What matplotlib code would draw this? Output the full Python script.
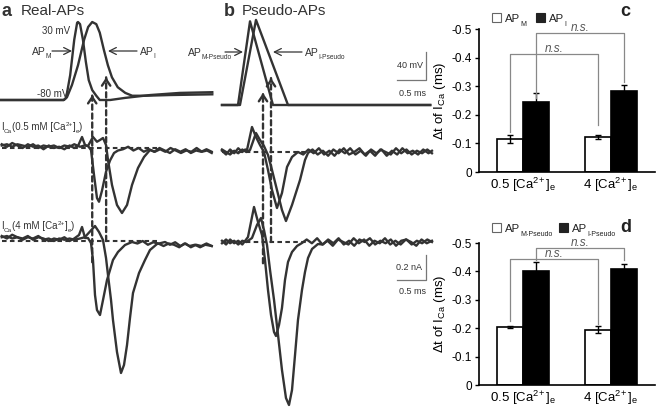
import numpy as np
import matplotlib
matplotlib.use('Agg')
import matplotlib.pyplot as plt
from matplotlib.patches import ConnectionPatch, Rectangle

plt.rcParams['font.family'] = ['Liberation Sans', 'DejaVu Sans']
plt.rcParams['mathtext.default'] = 'regular'
plt.rcParams['axes.unicode_minus'] = False

# ---- panel a: real APs (ms, mV) ----
ap_m_t = [0, 1.10, 1.14, 1.21, 1.28, 1.33, 1.345, 1.38, 1.43, 1.48, 1.53, 1.59, 1.66, 1.72, 1.90, 2.16, 2.59, 3.10, 3.66]
ap_m_v = [-80, -80, -77, -45, 5, 29, 30, 27, 5, -26, -52, -66, -74, -80, -80, -77, -73, -70, -69]
ap_i_t = [0, 1.10, 1.155, 1.24, 1.345, 1.45, 1.52, 1.59, 1.66, 1.72, 1.79, 1.86, 1.93, 2.03, 2.16, 2.28, 2.50, 2.93, 3.66]
ap_i_v = [-80, -80, -76, -59, -31, 5, 23, 30, 27, 15, -9, -31, -48, -62, -70, -74, -74, -73, -72]

# ---- panel b: pseudo APs (ms, mV) ----
pap_m_t = [0, 0.276, 0.483, 0.879, 3.59]
pap_m_v = [-80, -80, 38, -80, -80]
pap_i_t = [0, 0.31, 0.586, 1.138, 3.59]
pap_i_v = [-80, -80, 40, -80, -80]

# ---- I_Ca traces (ms, nA) ----
a_m05_t = [0.03, 0.12, 0.21, 0.30, 0.39, 0.48, 0.57, 0.66, 0.75, 0.84, 0.93, 1.02, 1.11, 1.20, 1.28,
           1.345, 1.414, 1.466, 1.517, 1.569, 1.621, 1.672, 1.707, 1.759, 1.828, 1.897, 1.966, 2.034,
           2.12, 2.21, 2.30, 2.39, 2.48, 2.57, 2.66, 2.75, 2.84, 2.93, 3.02, 3.11, 3.20, 3.29, 3.38, 3.47, 3.56, 3.65]
a_m05_i = [0.03, 0.01, 0.04, 0.02, 0.00, 0.03, 0.01, 0.02, -0.01, 0.02, 0.00, 0.01, -0.01, 0.02, 0.00,
           0.016, 0.088, 0.024, 0.016, -0.016, -0.216, -0.40, -0.43, -0.34, -0.19, -0.10, -0.04, -0.02,
           -0.01, 0.01, -0.02, 0.00, -0.03, -0.01, -0.03, 0.00, -0.02, -0.04, -0.01, -0.03, -0.01, -0.04, -0.02, -0.03, -0.01, -0.03]
a_i05_t = [0.03, 0.12, 0.21, 0.30, 0.39, 0.48, 0.57, 0.66, 0.75, 0.84, 0.93, 1.02, 1.11, 1.20, 1.28, 1.38, 1.46,
           1.517, 1.603, 1.672, 1.724, 1.776, 1.828, 1.862, 1.931, 2.017, 2.103, 2.190, 2.276, 2.379, 2.483, 2.586,
           2.67, 2.76, 2.85, 2.94, 3.03, 3.12, 3.21, 3.30, 3.39, 3.48, 3.57, 3.65]
a_i05_i = [0.02, 0.03, 0.01, 0.03, 0.02, 0.01, 0.03, 0.00, 0.02, 0.01, 0.02, 0.00, 0.02, 0.01, 0.03, 0.01, 0.02,
           0.016, 0.088, 0.05, 0.064, 0.08, 0.024, -0.096, -0.296, -0.456, -0.52, -0.456, -0.296, -0.16, -0.072, -0.016,
           -0.03, -0.01, -0.03, 0.00, -0.02, -0.04, -0.02, -0.03, 0.00, -0.03, -0.02, -0.04]
a_m4_t = [0.03, 0.12, 0.21, 0.30, 0.39, 0.48, 0.57, 0.66, 0.75, 0.84, 0.93, 1.02, 1.11, 1.20, 1.28,
          1.362, 1.414, 1.466, 1.517, 1.569, 1.603, 1.638, 1.672, 1.724, 1.776, 1.845, 1.897, 1.948, 2.034, 2.155, 2.276,
          2.37, 2.46, 2.55, 2.64, 2.73, 2.82, 2.91, 3.00, 3.09, 3.18, 3.27, 3.36, 3.45, 3.54, 3.65]
a_m4_i = [0.04, 0.02, 0.05, 0.03, 0.02, 0.04, 0.01, 0.03, 0.02, 0.00, 0.02, 0.01, 0.03, 0.00, 0.02,
          0.048, 0.112, 0.024, 0.024, -0.016, -0.152, -0.432, -0.552, -0.592, -0.472, -0.312, -0.232, -0.152, -0.088, -0.032, -0.008,
          -0.02, 0.00, -0.03, -0.01, -0.02, -0.04, -0.02, -0.03, -0.05, -0.02, -0.04, -0.03, -0.05, -0.03, -0.04]
a_i4_t = [0.03, 0.12, 0.21, 0.30, 0.39, 0.48, 0.57, 0.66, 0.75, 0.84, 0.93, 1.02, 1.11, 1.20, 1.28, 1.38, 1.46, 1.52,
          1.638, 1.707, 1.776, 1.828, 1.862, 1.914, 1.948, 2.017, 2.086, 2.138, 2.190, 2.241, 2.293, 2.397, 2.50, 2.586, 2.707, 2.845,
          2.93, 3.02, 3.11, 3.20, 3.29, 3.38, 3.47, 3.56, 3.65]
a_i4_i = [0.03, 0.04, 0.02, 0.03, 0.01, 0.03, 0.02, 0.04, 0.01, 0.02, 0.00, 0.02, 0.01, 0.02, 0.01, 0.02, 0.03, 0.06,
          0.12, 0.072, 0.008, -0.136, -0.272, -0.472, -0.632, -0.888, -1.056, -0.992, -0.832, -0.616, -0.416, -0.256, -0.152, -0.072, -0.024, -0.008,
          -0.03, -0.01, -0.04, -0.02, -0.05, -0.03, -0.04, -0.02, -0.04]

b_m05_t = [0.0, 0.07, 0.14, 0.21, 0.28, 0.35, 0.40,
           0.431, 0.517, 0.586, 0.655, 0.724, 0.793, 0.862, 0.948, 1.034, 1.121, 1.207, 1.31,
           1.40, 1.49, 1.58, 1.67, 1.76, 1.85, 1.94, 2.03, 2.12, 2.21, 2.30, 2.39, 2.48, 2.57, 2.66, 2.75, 2.84, 2.93, 3.02, 3.11, 3.20, 3.29, 3.38, 3.47, 3.56, 3.62]
b_m05_i = [0.01, -0.02, 0.02, -0.01, 0.03, 0.00, 0.02,
           0.016, 0.20, 0.12, 0.056, 0.0, -0.144, -0.304, -0.448, -0.328, -0.12, -0.04, 0.0,
           -0.02, 0.02, -0.01, 0.03, -0.02, 0.01, -0.03, 0.02, -0.01, 0.03, -0.02, 0.01, -0.03, 0.02, -0.01, 0.02, -0.03, 0.01, -0.02, 0.03, -0.01, 0.01, -0.02, 0.02, -0.01, 0.01]
b_i05_t = [0.0, 0.07, 0.14, 0.21, 0.28, 0.35, 0.42,
           0.483, 0.586, 0.655, 0.724, 0.793, 0.862, 0.948, 1.034, 1.103, 1.207, 1.345, 1.431, 1.483,
           1.56, 1.65, 1.74, 1.83, 1.92, 2.01, 2.10, 2.19, 2.28, 2.37, 2.46, 2.55, 2.64, 2.73, 2.82, 2.91, 3.00, 3.09, 3.18, 3.27, 3.36, 3.45, 3.54, 3.62]
b_i05_i = [0.02, 0.0, -0.02, 0.01, -0.01, 0.02, 0.0,
           0.016, 0.152, 0.096, 0.048, -0.024, -0.144, -0.304, -0.464, -0.552, -0.424, -0.224, -0.064, -0.008,
           0.02, -0.02, 0.01, -0.03, 0.02, -0.01, 0.03, -0.02, 0.0, 0.03, -0.02, 0.01, -0.03, 0.02, 0.0, -0.02, 0.03, -0.01, 0.02, -0.02, 0.01, -0.01, 0.02, -0.01]
b_m4_t = [0.0, 0.07, 0.14, 0.21, 0.28, 0.35, 0.40,
          0.448, 0.552, 0.621, 0.690, 0.741, 0.793, 0.845, 0.897, 0.931, 0.983, 1.034, 1.086, 1.138, 1.207, 1.293, 1.379,
          1.46, 1.55, 1.64, 1.73, 1.82, 1.91, 2.00, 2.09, 2.18, 2.27, 2.36, 2.45, 2.54, 2.63, 2.72, 2.81, 2.90, 2.99, 3.08, 3.17, 3.26, 3.35, 3.44, 3.53, 3.62]
b_m4_i = [0.01, -0.02, 0.02, -0.01, 0.01, -0.02, 0.01,
          0.04, 0.28, 0.16, 0.056, -0.144, -0.384, -0.584, -0.72, -0.752, -0.664, -0.528, -0.304, -0.16, -0.08, -0.032, -0.008,
          0.02, -0.01, 0.03, -0.02, 0.01, -0.03, 0.02, 0.00, -0.02, 0.03, -0.01, 0.02, -0.03, 0.01, -0.01, 0.03, -0.02, 0.01, -0.02, 0.02, 0.00, -0.03, 0.02, -0.01, 0.01]
b_i4_t = [0.0, 0.07, 0.14, 0.21, 0.28, 0.35, 0.42,
          0.517, 0.603, 0.672, 0.724, 0.776, 0.828, 0.897, 0.966, 1.034, 1.103, 1.155, 1.207, 1.259, 1.310, 1.379, 1.431, 1.483, 1.552, 1.655,
          1.74, 1.83, 1.92, 2.01, 2.10, 2.19, 2.28, 2.37, 2.46, 2.55, 2.64, 2.73, 2.82, 2.91, 3.00, 3.09, 3.18, 3.27, 3.36, 3.45, 3.54, 3.62]
b_i4_i = [-0.01, 0.02, -0.01, 0.01, -0.02, 0.01, 0.0,
          0.032, 0.136, 0.192, 0.096, -0.024, -0.224, -0.464, -0.744, -1.024, -1.248, -1.304, -1.184, -0.904, -0.624, -0.384, -0.24, -0.128, -0.056, -0.016,
          -0.02, 0.02, -0.01, 0.03, -0.02, 0.01, -0.03, 0.02, 0.00, 0.03, -0.02, 0.01, -0.01, 0.02, -0.03, 0.01, 0.02, -0.02, 0.01, -0.01, 0.02, 0.00]

# I_Ca onset markers (ms): arrow head on AP (mV), bottom end of dashed line (nA)
onset_a = [1.59, 1.83]
onset_a_head = [-73, -48]
onset_b = [0.707, 0.845]
onset_b_head = [-63, -42]
onset_end = [-0.17, 0.0]

# ---- bar charts: delta t of I_Ca (ms) ----
groups = ['0.5 [Ca$^{2\\!+}$]$_e$', '4 [Ca$^{2\\!+}$]$_e$']
c_white = [-0.114, -0.121]
c_white_err = [0.014, 0.007]
c_black = [-0.244, -0.284]
c_black_err = [0.031, 0.020]
d_white = [-0.205, -0.194]
d_white_err = [0.003, 0.012]
d_black = [-0.401, -0.407]
d_black_err = [0.033, 0.018]
yticks = [0, -0.1, -0.2, -0.3, -0.4, -0.5]
ytick_labels = ['0', '-0.1', '-0.2', '-0.3', '-0.4', '-0.5']

TRACE = '#333333'
W, H = 656, 408
fig = plt.figure(figsize=(W / 100, H / 100), dpi=100)


def px_axes(x0, y0, x1, y1):
    return fig.add_axes([x0 / W, 1 - y1 / H, (x1 - x0) / W, (y1 - y0) / H])


def trace_axes(x0, x1, y0, y1, t0_px, base_px, base_val, ppx, ppy):
    ax = px_axes(x0, y0, x1, y1)
    ax.set_xlim((x0 - t0_px) / ppx, (x1 - t0_px) / ppx)
    ax.set_ylim(base_val - (y1 - base_px) / ppy, base_val + (base_px - y0) / ppy)
    ax.axis('off')
    return ax


PX_MS, PX_MV, PX_NA = 58, 0.709, 125

ax_a_ap = trace_axes(0, 222, 0, 125, 0, 100, -80, PX_MS, PX_MV)
ax_a_05 = trace_axes(0, 222, 110, 265, 0, 148, 0, PX_MS, PX_NA)
ax_a_4 = trace_axes(0, 222, 200, 408, 0, 241, 0, PX_MS, PX_NA)
ax_b_ap = trace_axes(222, 445, 0, 125, 222, 105, -80, PX_MS, PX_MV)
ax_b_05 = trace_axes(222, 445, 110, 265, 222, 152, 0, PX_MS, PX_NA)
ax_b_4 = trace_axes(222, 445, 200, 408, 222, 242, 0, PX_MS, PX_NA)

kw = dict(color=TRACE, lw=1.7, clip_on=False, solid_joinstyle='round')
ax_a_ap.plot(ap_m_t, ap_m_v, **kw)
ax_a_ap.plot(ap_i_t, ap_i_v, **kw)
ax_b_ap.plot(pap_m_t, pap_m_v, **kw)
ax_b_ap.plot(pap_i_t, pap_i_v, **kw)
ax_a_05.plot(a_m05_t, a_m05_i, **kw)
ax_a_05.plot(a_i05_t, a_i05_i, **kw)
ax_a_4.plot(a_m4_t, a_m4_i, **kw)
ax_a_4.plot(a_i4_t, a_i4_i, **kw)
ax_b_05.plot(b_m05_t, b_m05_i, **kw)
ax_b_05.plot(b_i05_t, b_i05_i, **kw)
ax_b_4.plot(b_m4_t, b_m4_i, **kw)
ax_b_4.plot(b_i4_t, b_i4_i, **kw)

DASH = (0, (2.2, 1.6))
for ax in (ax_a_05, ax_a_4):
    ax.hlines(0, 0.03, 2.7, colors=TRACE, lw=1.5, linestyles=DASH)
for ax in (ax_b_05, ax_b_4):
    ax.hlines(0, 0.0, 1.5, colors=TRACE, lw=1.5, linestyles=DASH)


def onset_arrow(ax_top, ax_bot, t, head, end):
    con = ConnectionPatch(xyA=(t, end), coordsA=ax_bot.transData,
                          xyB=(t, head), coordsB=ax_top.transData,
                          linestyle=DASH, lw=1.7, color=TRACE)
    fig.add_artist(con)
    ax_top.annotate('', xy=(t, head), xytext=(t, head - 3),
                    arrowprops=dict(arrowstyle='->,head_length=0.45,head_width=0.3',
                                    lw=1.7, color=TRACE, shrinkA=0, shrinkB=0))


for t, h, e in zip(onset_a, onset_a_head, onset_end):
    onset_arrow(ax_a_ap, ax_a_4, t, h, e)
for t, h, e in zip(onset_b, onset_b_head, onset_end):
    onset_arrow(ax_b_ap, ax_b_4, t, h, e)

# scale bars
sb = dict(color='#777777', lw=0.9, clip_on=False)
ax_b_ap.plot([3.02, 3.52, 3.52], [-45, -45, -5], **sb)
ax_b_4.plot([3.02, 3.52, 3.52], [-0.30, -0.30, -0.10], **sb)

# text overlay in pixel coordinates (y grows downward)
ov = fig.add_axes([0, 0, 1, 1])
ov.set_xlim(0, W)
ov.set_ylim(H, 0)
ov.axis('off')


def rich(x, y, parts, size, color=TRACE, sub_size=None):
    # chain of normal / sub / sup pieces sharing one baseline
    sub_size = sub_size or size * 0.65
    prev = None
    for s, kind in parts:
        fs = size if kind == 'n' else sub_size
        dy = {'n': 0, 'sub': size * 0.45, 'sup': -size * 0.6}[kind]
        if prev is None:
            prev = ov.text(x, y + dy, s, fontsize=fs, va='baseline', color=color)
        else:
            prev = ov.annotate(s, xy=(1, y + dy), xycoords=(prev, 'data'),
                               fontsize=fs, va='baseline', ha='left', color=color)
    return prev


tk = dict(color=TRACE, va='center')
ov.text(1, 11, 'a', fontsize=13, fontweight='bold', **tk)
ov.text(21, 11, 'Real-APs', fontsize=11, **tk)
ov.text(224, 11, 'b', fontsize=13, fontweight='bold', **tk)
ov.text(242, 11, 'Pseudo-APs', fontsize=11, **tk)
ov.text(70, 31, '30 mV', fontsize=7, ha='right', **tk)
ov.text(68, 94, '-80 mV', fontsize=7, ha='right', **tk)
rich(32, 55, [('AP', 'n'), ('M', 'sub')], 7.5, sub_size=4.8)
rich(140, 55, [('AP', 'n'), ('I', 'sub')], 7.5, sub_size=4.8)
rich(188, 56, [('AP', 'n'), ('M-Pseudo', 'sub')], 7.5, sub_size=4.8)
rich(305, 56, [('AP', 'n'), ('I-Pseudo', 'sub')], 7.5, sub_size=4.8)
rich(1, 130, [('I', 'n'), ('Ca', 'sub'), ('(0.5 mM [Ca', 'n'), ('2+', 'sup'), (']', 'n'),
              ('e', 'sub'), (')', 'n')], 7, sub_size=4.6)
rich(1, 229, [('I', 'n'), ('Ca', 'sub'), ('(4 mM [Ca', 'n'), ('2+', 'sup'), (']', 'n'),
              ('e', 'sub'), (')', 'n')], 7, sub_size=4.6)
ov.text(423, 65, '40 mV', fontsize=6.5, ha='right', **tk)
ov.text(426, 93, '0.5 ms', fontsize=6.5, ha='right', **tk)
ov.text(422, 268, '0.2 nA', fontsize=6.5, ha='right', **tk)
ov.text(426, 291, '0.5 ms', fontsize=6.5, ha='right', **tk)
arr = dict(arrowstyle='->,head_length=0.5,head_width=0.25', lw=0.9, color=TRACE, shrinkA=0, shrinkB=0)
ov.annotate('', xy=(72, 51), xytext=(52, 51), arrowprops=arr)
ov.annotate('', xy=(108, 51), xytext=(137, 51), arrowprops=arr)
ov.annotate('', xy=(243, 52), xytext=(225, 52), arrowprops=arr)
ov.annotate('', xy=(273, 52), xytext=(302, 52), arrowprops=arr)
ov.text(620, 12, 'c', fontsize=13, fontweight='bold', color='#222222', va='center')
ov.text(620, 228, 'd', fontsize=13, fontweight='bold', color='#222222', va='center')

# legends of c and d
for y0, names, x_black, x_txt2 in ((13, ('M', 'I'), 536, 549),
                                   (223, ('M-Pseudo', 'I-Pseudo'), 559, 572)):
    ov.add_patch(Rectangle((492, y0), 9, 9, facecolor='white', edgecolor='#666666', lw=0.8))
    ov.add_patch(Rectangle((x_black, y0), 9, 9, facecolor='#222222', edgecolor='#222222', lw=0.8))
    rich(505, y0 + 9, [('AP', 'n'), (names[0], 'sub')], 8.2, color='#222222', sub_size=5)
    rich(x_txt2, y0 + 9, [('AP', 'n'), (names[1], 'sub')], 8.2, color='#222222', sub_size=5)

BW = 0.29
GRAY = '#888888'


def bar_panel(ax, white, white_err, black, black_err, brackets):
    x = np.arange(len(groups))
    ekw = dict(elinewidth=1, capthick=1, ecolor='black')
    ax.bar(x - BW / 2, white, BW, color='white', edgecolor='black', lw=1.2,
           yerr=white_err, capsize=2.5, error_kw=ekw)
    ax.bar(x + BW / 2, black, BW, color='black', edgecolor='black', lw=1.2,
           yerr=black_err, capsize=2.5, error_kw=ekw)
    ax.set_xlim(-0.5, 1.5)
    ax.set_ylim(0, -0.5)
    ax.set_yticks(yticks)
    ax.set_yticklabels(ytick_labels, fontsize=8.5)
    ax.set_xticks(x)
    ax.set_xticklabels(groups, fontsize=9.5)
    ax.tick_params(axis='x', length=0, pad=3)
    ax.tick_params(axis='y', length=3, width=1, pad=2)
    for s in ('top', 'right'):
        ax.spines[s].set_visible(False)
    for s in ('left', 'bottom'):
        ax.spines[s].set_linewidth(1.2)
    ax.set_ylabel('Δt of I$_{Ca}$ (ms)', fontsize=9.5, labelpad=3)
    for xl, xr, yl, yr, yh in brackets:
        ax.plot([xl, xl, xr, xr], [yl, yh, yh, yr], color=GRAY, lw=0.9, clip_on=False)
        ax.text((xl + xr) / 2, yh - 0.006, 'n.s.', fontsize=8.5, style='italic',
                color='#555555', ha='center', va='baseline')


ax_c = px_axes(479, 29, 655, 172)
bar_panel(ax_c, c_white, c_white_err, c_black, c_black_err,
          [(-BW / 2, 1 - BW / 2, -0.14, -0.164, -0.413),
           (BW / 2, 1 + BW / 2, -0.26, -0.315, -0.486)])
ax_d = px_axes(479, 243, 655, 385)
bar_panel(ax_d, d_white, d_white_err, d_black, d_black_err,
          [(-BW / 2, 1 - BW / 2, -0.225, -0.215, -0.444),
           (BW / 2, 1 + BW / 2, -0.44, -0.44, -0.482)])

fig.savefig('out.png', dpi=100)
